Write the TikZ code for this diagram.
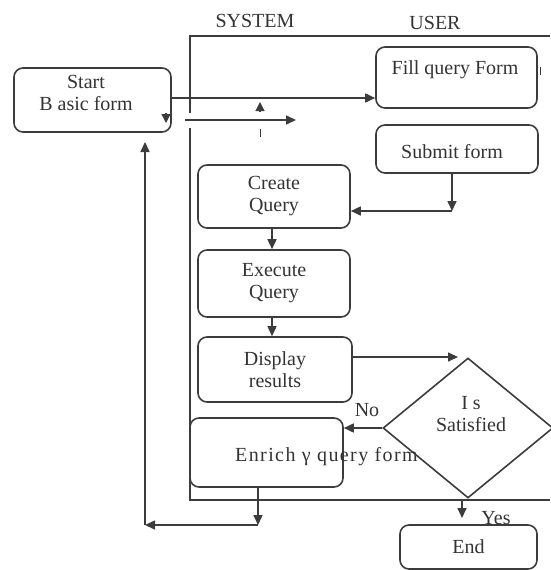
\documentclass[tikz,border=0pt]{standalone}
\usepackage{fontspec}
\setmainfont{Liberation Serif}
\usetikzlibrary{arrows.meta,shapes.geometric}
\definecolor{lc}{HTML}{3C3C3C}
\definecolor{tc}{HTML}{333333}
\begin{document}
\begin{tikzpicture}[x=1pt,y=-1pt,
 box/.style={draw=lc, line width=1.6pt, rounded corners=9pt, inner sep=0pt, align=center, text=tc, font=\fontsize{20}{22}\selectfont},
 txt/.style={text=tc, font=\fontsize{20}{22}\selectfont, inner sep=0pt, align=center},
 arr/.style={draw=lc, line width=1.6pt, -{Triangle[length=10pt,width=9pt]}},
 tip/.style={draw=lc, line width=1.2pt, -{Triangle[length=9pt,width=9pt]}},
 ln/.style={draw=lc, line width=1.6pt}]
\useasboundingbox (0,0) rectangle (550,570);

% swimlane frame
\coordinate (fa) at (550,36);
\coordinate (fb) at (190,36);
\coordinate (fc) at (190,113);
\coordinate (fd) at (190,128);
\coordinate (fe) at (190,500);
\coordinate (ff) at (550,500);
\draw[ln] (fa) -- (fb) -- (fc);
\draw[ln] (fd) -- (fe) -- (ff);
\node[txt] (sys) at (255,21) {SYSTEM};
\node[txt] (usr) at (435,23) {USER};

% boxes
\node[box, minimum width=157pt, minimum height=64pt] (start) at (92.5,100) {};
\node[txt] (starttxt) at (86,93) {Start\\B asic form};
\node[box, minimum width=161pt, minimum height=61pt] (fill) at (456.5,77.5) {};
\node[txt] (filltxt) at (455,70) {Fill query Form};
\node[box, minimum width=162pt, minimum height=48pt] (submit) at (457,149) {};
\node[txt] (submittxt) at (452,152) {Submit form};
\node[box, minimum width=152pt, minimum height=63pt] (create) at (274,196.5) {Create\\Query};
\node[box, minimum width=152pt, minimum height=67pt] (execute) at (274,283.5) {Execute\\Query};
\node[box, minimum width=154pt, minimum height=65pt] (display) at (275,369.5) {Display\\results};
\node[box, minimum width=153pt, minimum height=69pt] (enrich) at (266.5,452.5) {};
\node[txt, anchor=west, font=\fontsize{20}{22}\selectfont\addfontfeatures{LetterSpace=7}] (enrichtxt) at (235,457) {Enrich γ query form};
\node[draw=lc, line width=1.6pt, diamond, minimum width=170pt, minimum height=140pt, inner sep=0pt, aspect=1.2] (dia) at (468,428) {};
\node[txt] (diatxt) at (471,414) {I s\\Satisfied};
\node[box, minimum width=137pt, minimum height=44pt] (end) at (468.5,547) {End};
\node[txt] (no) at (367,410) {No};
\node[txt] (yes) at (496,518) {Yes};

% connectors
\draw[arr] (start.east) ++(0,-2) coordinate (s0) -- (s0 -| fill.west);
\coordinate (r0) at (185,120);
\coordinate (r1) at (296,120);
\draw[arr] (r0) -- (r1);
\coordinate (c3) at (452,211);
\draw[arr] (submit.south -| c3) -- (c3);
\draw[arr] (c3) -- (c3 -| create.east);
\draw[arr] (create.south -| 272,0) -- (execute.north -| 272,0);
\draw[arr] (execute.south -| 272,0) -- (display.north -| 272,0);
\coordinate (dt) at (458,357);
\draw[arr] (display.east |- dt) -- (dt);
\draw[arr] (dia.west) -- (dia.west -| enrich.east);
\coordinate (yt) at (462,518);
\draw[arr] (462,499) -- (yt);
\coordinate (c1) at (258,525);
\coordinate (c2) at (145,525);
\coordinate (c4) at (145,142);
\draw[arr] (enrich.south -| c1) -- (c1);
\draw[arr] (c1) -- (c2);
\draw[arr] (c2) -- (c4);

% stray marks
\coordinate (m1) at (260,112);
\coordinate (m2) at (260,102);
\draw[tip] (m1) -- (m2);
\coordinate (m3) at (260,129);
\coordinate (m4) at (260,137);
\draw[ln, line width=1pt] (m3) -- (m4);
\coordinate (m5) at (166,113);
\coordinate (m6) at (166,123);
\draw[tip] (m5) -- (m6);
\coordinate (m7) at (540,67);
\coordinate (m8) at (540,75);
\draw[ln, line width=1pt] (m7) -- (m8);
\end{tikzpicture}
\end{document}
